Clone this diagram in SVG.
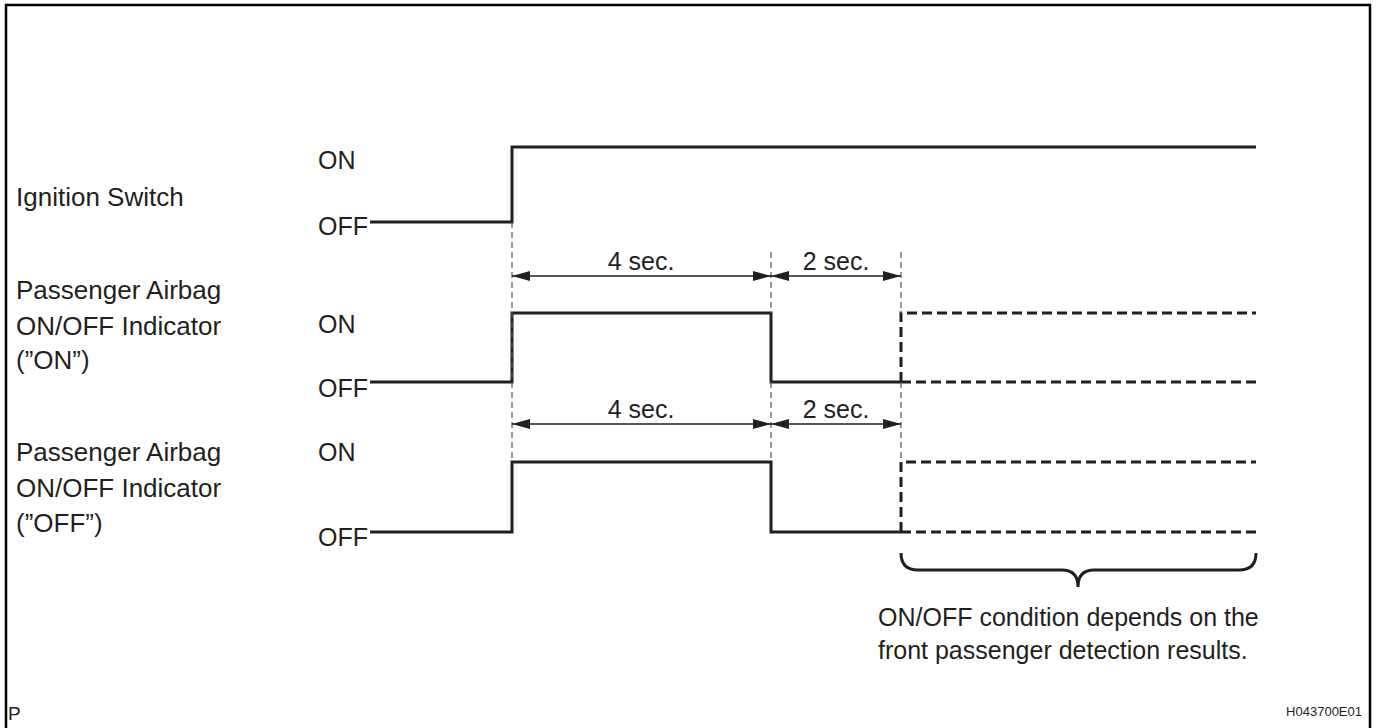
<svg xmlns="http://www.w3.org/2000/svg" width="1376" height="728" viewBox="0 0 1376 728">
<style>
text{font-family:"Liberation Sans",Arial,sans-serif;fill:#231f20;font-size:25px}
.lbl{font-size:26px}
.sig{fill:none;stroke:#231f20;stroke-width:3}
.dsig{fill:none;stroke:#231f20;stroke-width:3;stroke-dasharray:10 5}
.guide{fill:none;stroke:#555;stroke-width:1.2;stroke-dasharray:6 4}
.dim{fill:none;stroke:#231f20;stroke-width:1.5}
</style>
<defs>
<marker id="ah" viewBox="0 0 18 10" refX="18" refY="5" markerWidth="18" markerHeight="10" markerUnits="userSpaceOnUse" orient="auto-start-reverse">
<path d="M0,0 L18,5 L0,10 Z" fill="#231f20"/>
</marker>
</defs>
<rect width="1376" height="728" fill="#fff"/>
<path d="M6,728 V5 H1370 V728" fill="none" stroke="#000" stroke-width="2.5"/>

<g id="labels">
<text class="lbl" x="16" y="206">Ignition Switch</text>
<text class="lbl" x="16" y="299">Passenger Airbag</text>
<text class="lbl" x="16" y="335">ON/OFF Indicator</text>
<text class="lbl" x="16" y="369">(”ON”)</text>
<text class="lbl" x="16" y="461">Passenger Airbag</text>
<text class="lbl" x="16" y="497">ON/OFF Indicator</text>
<text class="lbl" x="16" y="532">(”OFF”)</text>
</g>

<g id="ignition-switch">
<text x="318" y="169">ON</text>
<text x="318" y="235">OFF</text>
<path class="sig" d="M370,222 H512 V147 H1256"/>
</g>

<g id="indicator-on">
<text x="318" y="333">ON</text>
<text x="318" y="397">OFF</text>
<path class="sig" d="M370,382 H512 V313 H771 V382 H901"/>
<path class="dsig" d="M901,382 V313 H1256"/>
<path class="dsig" d="M901,382 H1256"/>
</g>

<g id="indicator-off">
<text x="318" y="461">ON</text>
<text x="318" y="546">OFF</text>
<path class="sig" d="M370,532 H512 V462 H771 V532 H901"/>
<path class="dsig" d="M901,532 V462 H1256"/>
<path class="dsig" d="M901,532 H1256"/>
</g>

<g id="connectors">
<path class="guide" d="M512,222 V462"/>
<path class="guide" d="M771,252 V313 M771,382 V462"/>
<path class="guide" d="M901,252 V313 M901,382 V462"/>
<path class="dim" d="M512,276 H771" marker-start="url(#ah)" marker-end="url(#ah)"/>
<path class="dim" d="M771,276 H901" marker-start="url(#ah)" marker-end="url(#ah)"/>
<path class="dim" d="M512,424 H771" marker-start="url(#ah)" marker-end="url(#ah)"/>
<path class="dim" d="M771,424 H901" marker-start="url(#ah)" marker-end="url(#ah)"/>
</g>

<g id="dimension-labels">
<text x="641" y="270" text-anchor="middle">4 sec.</text>
<text x="836" y="270" text-anchor="middle">2 sec.</text>
<text x="641" y="418" text-anchor="middle">4 sec.</text>
<text x="836" y="418" text-anchor="middle">2 sec.</text>
</g>

<g id="brace-note">
<path class="sig" stroke-width="2.5" d="M901,553 Q901,570 918,570 H1062 Q1078,570 1078,587 Q1078,570 1094,570 H1239 Q1256,570 1256,553"/>
<text x="878" y="626">ON/OFF condition depends on the</text>
<text x="878" y="659">front passenger detection results.</text>
</g>

<text x="8" y="720" style="font-size:19px">P</text>
<text x="1362" y="716" text-anchor="end" style="font-size:13px">H043700E01</text>
</svg>
